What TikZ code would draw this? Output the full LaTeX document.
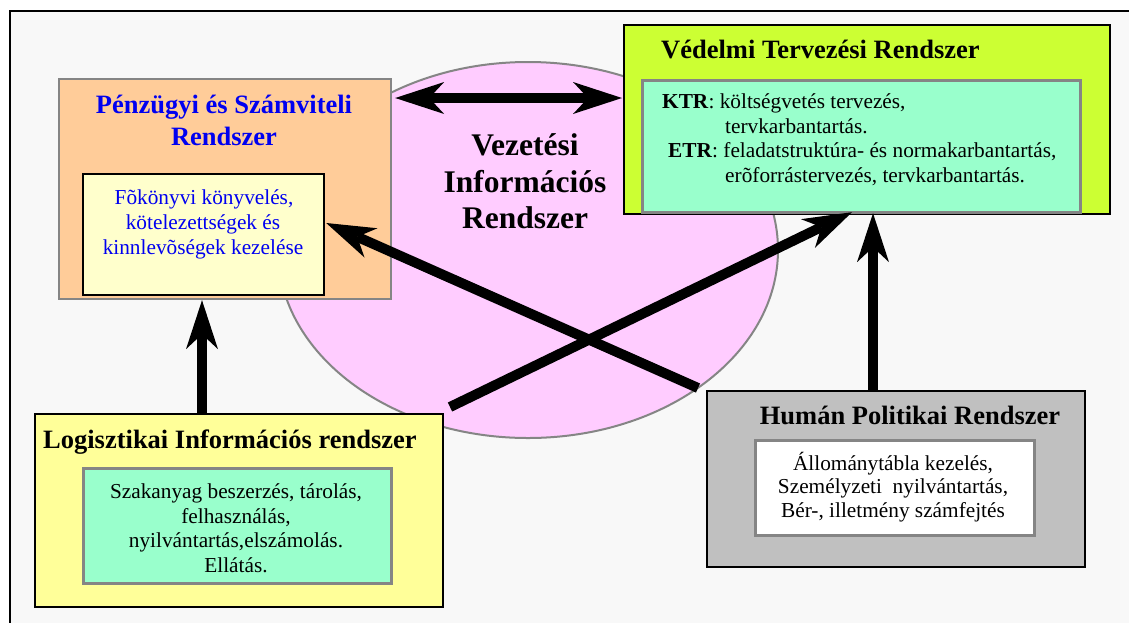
\documentclass[tikz,border=0pt]{standalone}
\usepackage{fontspec}
\setmainfont{Liberation Serif}
\usetikzlibrary{arrows.meta,shapes.geometric}
\definecolor{pagebg}{HTML}{F8F8F8}
\definecolor{peach}{HTML}{FFCC99}
\definecolor{cream}{HTML}{FFFFCC}
\definecolor{pinkish}{HTML}{FFCCFF}
\definecolor{lime}{HTML}{CCFF33}
\definecolor{aqua}{HTML}{99FFCC}
\definecolor{lemon}{HTML}{FFFF99}
\definecolor{silverbox}{HTML}{C0C0C0}
\definecolor{edgegray}{HTML}{858585}
\definecolor{textblue}{HTML}{0000F0}
\begin{document}
\begin{tikzpicture}[x=1pt,y=-1pt,
  panel/.style={draw=black,line width=2.2pt,anchor=north west,inner sep=0pt,minimum width=#1},
  subpanel/.style={draw=edgegray,line width=2.6pt,anchor=north west,inner sep=0pt,minimum width=#1},
  title/.style={font=\fontsize{26.5}{32}\selectfont\bfseries,inner sep=0pt,anchor=base},
  bigtitle/.style={font=\fontsize{31.5}{36}\selectfont\bfseries,inner sep=0pt,anchor=base},
  body/.style={font=\fontsize{21.3}{25}\selectfont,inner sep=0pt,anchor=base},
  bigtip/.tip={Stealth[length=49pt,width=32pt,inset=15pt,line width=0pt]},
  link/.style={line width=10pt,-{bigtip}},
  both/.style={line width=9.5pt,{bigtip}-{bigtip}}]
\useasboundingbox (0,0) rectangle (1129,622);
\clip (0,0) rectangle (1129,622);
\fill[white] (0,0) rectangle (1129,622);
% page frame
\draw[line width=2.5pt,fill=pagebg] (10,11) rectangle (1145,640);

% central ellipse
\node[draw=edgegray,line width=2pt,fill=pinkish,ellipse,inner sep=0pt,
      minimum width=500pt,minimum height=376pt] (vir) at (528,250) {};
\node[bigtitle] (vir1) at (525,155) {Vezetési};
\node[bigtitle] (vir2) at (525,192) {Információs};
\node[bigtitle] (vir3) at (525,228) {Rendszer};

% financial system
\node[panel=332pt,draw=edgegray,fill=peach,minimum height=220pt] (pz) at (58,78) {};
\node[subpanel=241pt,draw=black,line width=2.2pt,fill=cream,minimum height=121pt] (pzi) at (82,173) {};
\node[title,text=textblue] (pz1) at (224,113) {Pénzügyi és Számviteli};
\node[title,text=textblue] (pz2) at (224,145) {Rendszer};
\node[body,text=textblue] (pzt1) at (204,204) {Fõkönyvi könyvelés,};
\node[body,text=textblue] (pzt2) at (203,229) {kötelezettségek és};
\node[body,text=textblue] (pzt3) at (203,254) {kinnlevõségek kezelése};

% defence planning system
\node[panel=486pt,fill=lime,minimum height=189pt] (vd) at (623,24) {};
\node[subpanel=438pt,fill=aqua,minimum height=132pt] (vdi) at (641,79) {};
\node[title,anchor=base west] (vd1) at (661,58) {Védelmi Tervezési Rendszer};
\node[body,anchor=base west] (vdt1) at (662,108.5) {\textbf{KTR}: költségvetés tervezés,};
\node[body,anchor=base west] (vdt2) at (725,133) {tervkarbantartás.};
\node[body,anchor=base west] (vdt3) at (668,157.5) {\textbf{ETR}: feladatstruktúra- és normakarbantartás,};
\node[body,anchor=base west] (vdt4) at (725,182) {erõforrástervezés, tervkarbantartás.};

% logistics system
\node[panel=408pt,fill=lemon,minimum height=193pt] (lg) at (34,413) {};
\node[subpanel=308pt,fill=aqua,minimum height=115pt] (lgi) at (82,467) {};
\node[title,anchor=base west] (lg1) at (43,448) {Logisztikai Információs rendszer};
\node[body] (lgt1) at (236,498) {Szakanyag beszerzés, tárolás,};
\node[body] (lgt2) at (236,523) {felhasználás,};
\node[body] (lgt3) at (236,547) {nyilvántartás,elszámolás.};
\node[body] (lgt4) at (236,572) {Ellátás.};

% human resources system
\node[panel=378pt,fill=silverbox,minimum height=176pt] (hp) at (706,390) {};
\node[subpanel=279pt,fill=white,minimum height=95pt] (hpi) at (754,439) {};
\node[title] (hp1) at (910,424) {Humán Politikai Rendszer};
\node[body] (hpt1) at (893,470) {Állománytábla kezelés,};
\node[body] (hpt2) at (893,493) {Személyzeti\ \ nyilvántartás,};
\node[body] (hpt3) at (893,517) {Bér-, illetmény számfejtés};

% connector positions
\coordinate (hy) at (0,98);
\coordinate (ax) at (202,0);
\coordinate (bx) at (873,0);
\coordinate (d1s) at (698,388);
\coordinate (d1y) at (0,223);
\coordinate (d2s) at (450,407);
\coordinate (d2x) at (852,0);

\draw[both] ([xshift=3pt]pz.east |- hy) -- ([xshift=-1pt]vd.west |- hy);
\draw[link] (lg.north -| ax) -- (pz.south -| ax);
\draw[link] (hp.north -| bx) -- ([yshift=2pt]vd.south -| bx);
\draw[link] (d1s) -- ([xshift=1pt]pzi.east |- d1y);
\draw[link] (d2s) -- ([yshift=3pt]vd.south -| d2x);
\end{tikzpicture}
\end{document}
